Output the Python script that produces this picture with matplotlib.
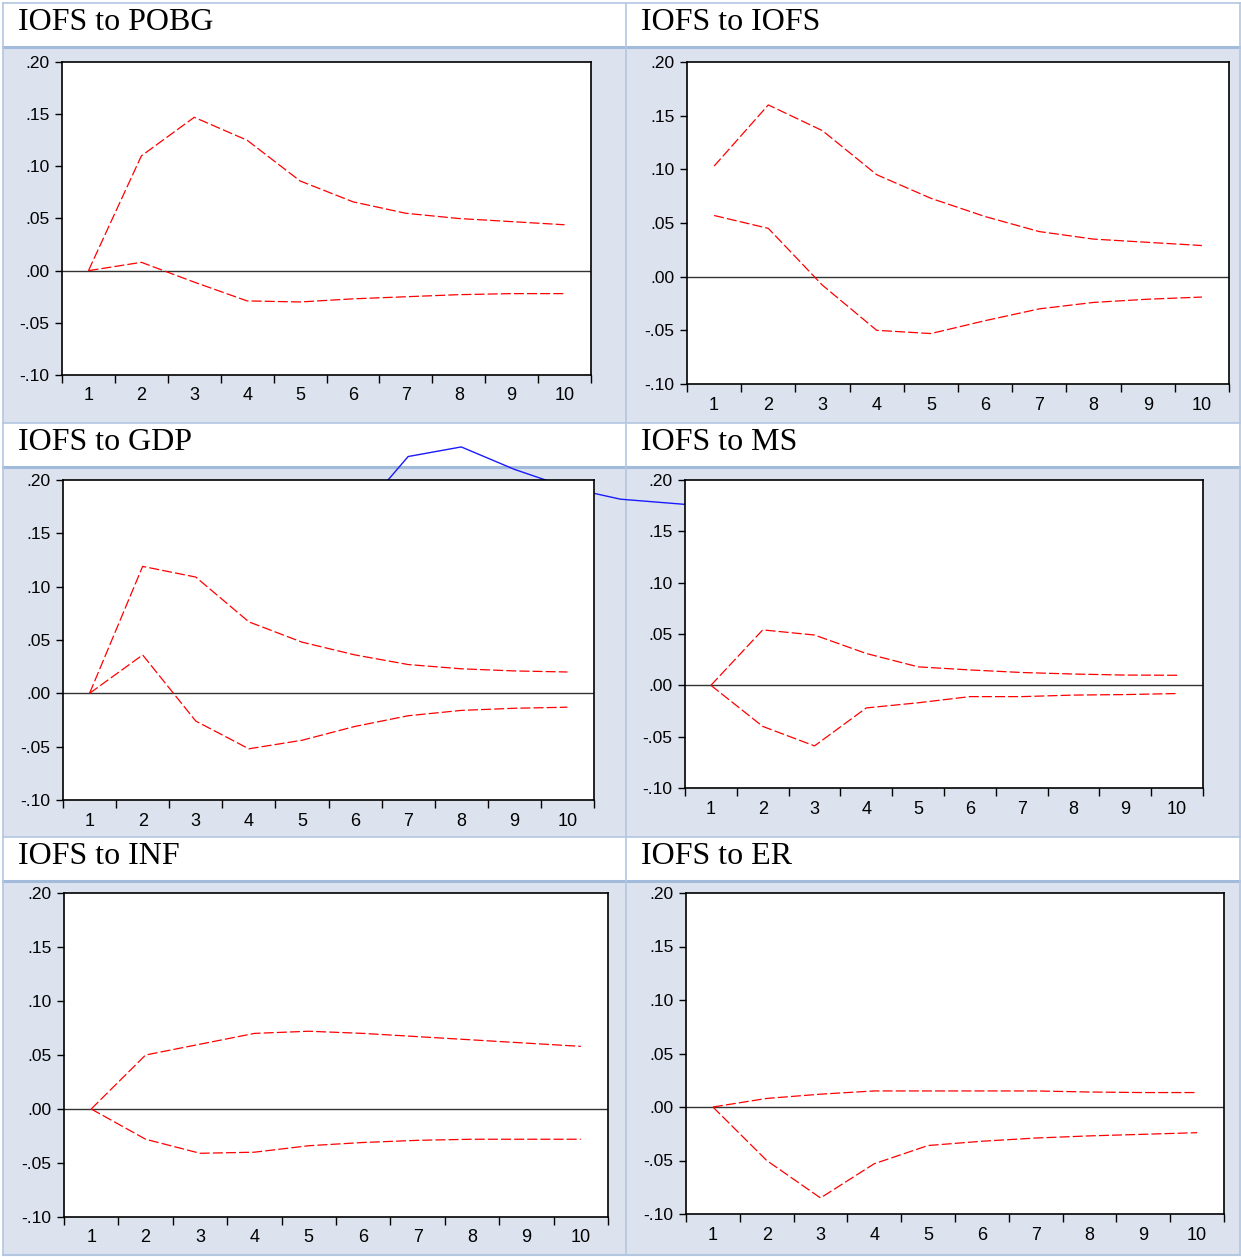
import matplotlib
matplotlib.use('Agg')
import matplotlib.pyplot as plt
from matplotlib.patches import Rectangle
from matplotlib.ticker import FuncFormatter
import numpy as np

# 数据：脉冲响应的置信带（上下界）
periods = list(range(1, 11))

titles = ['IOFS to POBG', 'IOFS to IOFS', 'IOFS to GDP',
          'IOFS to MS', 'IOFS to INF', 'IOFS to ER']

pobg_upper = [0.000, 0.110, 0.147, 0.125, 0.086, 0.066, 0.055, 0.050, 0.047, 0.044]
pobg_lower = [0.000, 0.008, -0.011, -0.029, -0.030, -0.027, -0.025, -0.023, -0.022, -0.022]

iofs_upper = [0.103, 0.160, 0.136, 0.095, 0.073, 0.056, 0.042, 0.035, 0.032, 0.029]
iofs_lower = [0.057, 0.045, -0.008, -0.050, -0.053, -0.041, -0.030, -0.024, -0.021, -0.019]

gdp_upper = [0.000, 0.119, 0.109, 0.067, 0.048, 0.036, 0.027, 0.023, 0.021, 0.020]
gdp_lower = [0.000, 0.036, -0.026, -0.052, -0.044, -0.031, -0.021, -0.016, -0.014, -0.013]

ms_upper = [0.000, 0.054, 0.049, 0.031, 0.018, 0.015, 0.0125, 0.011, 0.010, 0.0098]
ms_lower = [0.000, -0.040, -0.059, -0.022, -0.017, -0.011, -0.011, -0.0095, -0.009, -0.008]

inf_upper = [0.000, 0.050, 0.060, 0.070, 0.072, 0.070, 0.067, 0.064, 0.061, 0.058]
inf_lower = [0.000, -0.028, -0.041, -0.040, -0.034, -0.031, -0.029, -0.028, -0.028, -0.028]

er_upper = [0.000, 0.008, 0.012, 0.015, 0.015, 0.015, 0.015, 0.014, 0.0135, 0.0135]
er_lower = [0.000, -0.050, -0.085, -0.053, -0.036, -0.032, -0.029, -0.027, -0.0255, -0.024]

# GDP 面板后面露出来的蓝线
stray_x = [6, 7, 8, 9, 10, 11, 12.5]
stray_y = [0.164, 0.222, 0.231, 0.210, 0.193, 0.182, 0.176]

bands = [(pobg_upper, pobg_lower), (iofs_upper, iofs_lower), (gdp_upper, gdp_lower),
         (ms_upper, ms_lower), (inf_upper, inf_lower), (er_upper, er_lower)]

W, H = 1241, 1257
fig = plt.figure(figsize=(W / 100, H / 100), dpi=100)
fig.patch.set_facecolor('white')

# 背景表格
bg = fig.add_axes([0, 0, 1, 1], zorder=0)
bg.set_xlim(0, W)
bg.set_ylim(H, 0)
bg.axis('off')

border = '#b3c7e1'
cols = [(3, 626), (626, 1241)]
rows = [(3, 46, 423), (423, 466, 837), (837, 880, 1255)]
for (top, hb, bot) in rows:
    for (l, r) in cols:
        bg.add_patch(Rectangle((l, top), r - l, hb - top, facecolor='white', edgecolor='none', zorder=1))
        bg.add_patch(Rectangle((l, hb), r - l, bot - hb, facecolor='#dce3ef', edgecolor='none', zorder=1))
    bg.plot([3, W], [top, top], color=border, lw=1.2, zorder=2)
    bg.plot([3, W], [hb + 1, hb + 1], color='#a2bbdb', lw=2.2, zorder=2)
bg.plot([3, W], [1255, 1255], color=border, lw=1.5, zorder=2)
for x in [3, 626, 1240]:
    bg.plot([x, x], [3, 1255], color=border, lw=1.2, zorder=2)

for i, (top, hb, bot) in enumerate(rows):
    for j, (l, r) in enumerate(cols):
        bg.text(l + 15, top + 20, titles[i * 2 + j], fontsize=23,
                family='Liberation Serif', va='center', ha='left', zorder=3)

# 各面板位置（像素：左、右、上、下）
boxes = [(62, 591, 62, 375), (687, 1229, 62, 384),
         (63, 594, 480, 800), (685, 1203, 480, 788),
         (64, 608, 893, 1217), (686, 1224, 893, 1214)]

fmt = FuncFormatter(lambda v, p: f'{v:.2f}'.replace('0.', '.'))

axes = []
for k, ((l, r, t, b), (up, lo)) in enumerate(zip(boxes, bands)):
    ax = fig.add_axes([l / W, 1 - b / H, (r - l) / W, (b - t) / H], zorder=2)
    ax.set_facecolor('white')
    ax.set_xlim(0.5, 10.5)
    ax.set_ylim(-0.10, 0.20)
    ax.axhline(0, color='#333333', lw=1.0)
    ax.plot(periods, up, color='red', lw=0.9, dashes=(8, 2.5))
    ax.plot(periods, lo, color='red', lw=0.9, dashes=(8, 2.5))

    ax.set_yticks(np.arange(-0.10, 0.201, 0.05))
    ax.yaxis.set_major_formatter(fmt)
    ax.set_xticks(periods)
    ax.set_xticks(np.arange(0.5, 11, 1), minor=True)
    ax.tick_params(axis='y', direction='out', length=5, width=1, pad=4, labelsize=12.5)
    ax.tick_params(axis='x', which='major', length=0, pad=9, labelsize=13)
    ax.tick_params(axis='x', which='minor', direction='out', length=6, width=1)
    for lab in ax.get_xticklabels() + ax.get_yticklabels():
        lab.set_family('Liberation Sans')
    for s in ax.spines.values():
        s.set_linewidth(1.2)
        s.set_color('black')
    axes.append(ax)

# 蓝线画在背景层，被 GDP 面板遮住一部分
bg.plot(stray_x, stray_y, color='#1a1aff', lw=1.0, transform=axes[2].transData,
        clip_on=False, zorder=4)

plt.savefig('out.png', dpi=100)
plt.close()
